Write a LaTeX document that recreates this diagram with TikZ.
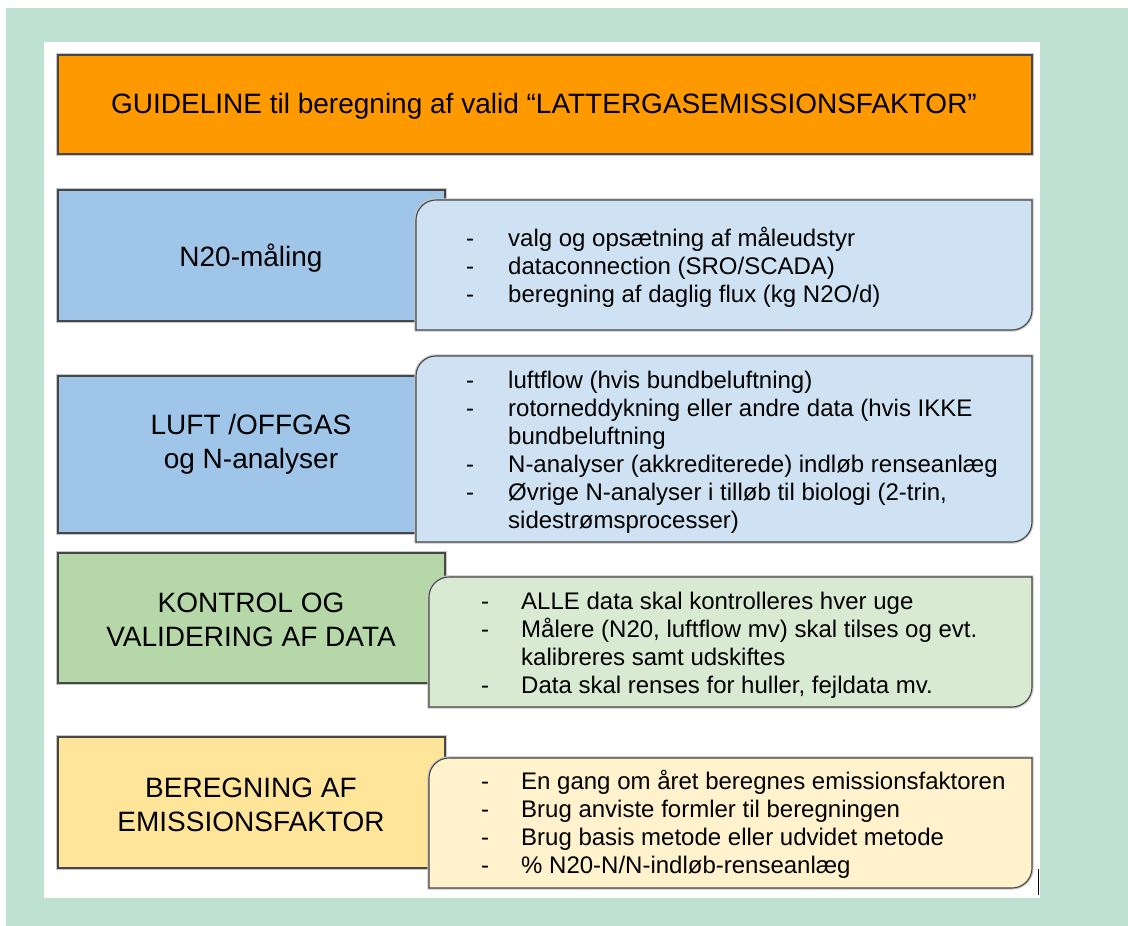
\documentclass[tikz,border=0pt]{standalone}
\usepackage{fontspec}
\setmainfont{Liberation Sans}
\usepackage{array}
\definecolor{mint}{HTML}{BEE1D3}
\definecolor{headorange}{HTML}{FF9900}
\definecolor{blueA}{HTML}{9FC5E8}
\definecolor{blueB}{HTML}{CFE2F3}
\definecolor{greenA}{HTML}{B6D7A8}
\definecolor{greenB}{HTML}{D9EAD3}
\definecolor{yellowA}{HTML}{FFE599}
\definecolor{yellowB}{HTML}{FFF2CC}
\begin{document}
\begin{tikzpicture}[x=1pt,y=1pt,yscale=-1,
  boxline/.style={draw=black!72, line width=1.1pt,
    preaction={draw=black!22, line width=3.4pt}},
  catbox/.style={rectangle, boxline, inner sep=0pt, minimum width=387pt},
  catlabel/.style={font=\fontsize{28}{34}\selectfont, align=center, inner sep=0pt},
  itemlist/.style={anchor=north west, inner sep=0pt, font=\fontsize{24}{28}\selectfont},
  callout/.style n args={4}{insert path={(#1,#2+20) .. controls (#1,#2+9) and (#1+9,#2) .. (#1+20,#2)
    -- (#3,#2) -- (#3,#4-20) .. controls (#3,#4-9) and (#3-9,#4) .. (#3-20,#4) -- (#1,#4) -- cycle}}
]
% canvas, mint frame and white sheet
\useasboundingbox (0,0) rectangle (1128,926);
\fill[white] (0,0) rectangle (1128,926);
\fill[mint] (6,8) rectangle (1128,926);
\fill[white] (44,42) rectangle (1040,898);

% heading
\node[rectangle, boxline, fill=headorange, minimum width=974pt, minimum height=99pt, inner sep=0pt]
  (head) at (545,104.5) {};
\node[font=\fontsize{28}{33}\selectfont, inner sep=0pt] (headtxt) at (544,106)
  {GUIDELINE til beregning af valid “LATTERGASEMISSIONSFAKTOR”};

% category boxes
\node[catbox, fill=blueA, minimum height=131pt] (maal) at (251.5,255.5) {};
\node[catbox, fill=blueA, minimum height=157pt] (luft) at (251.5,454.5) {};
\node[catbox, fill=greenA, minimum height=130pt] (kontrol) at (251.5,618) {};
\node[catbox, fill=yellowA, minimum height=131pt] (beregn) at (251.5,802.5) {};

\node[catlabel] (maaltxt) at (251,258) {N20-måling};
\node[catlabel] (lufttxt) at (251,444.5) {LUFT /OFFGAS\\og N-analyser};
\node[catlabel] (kontroltxt) at (251,620) {KONTROL OG\\VALIDERING AF DATA};
\node[catlabel] (beregntxt) at (251,804.5) {BEREGNING AF\\EMISSIONSFAKTOR};

% detail callouts
\path[boxline, fill=blueB, callout={416}{200}{1032}{330}];
\path[boxline, fill=blueB, callout={416}{356}{1032}{542}];
\path[boxline, fill=greenB, callout={429}{577}{1032}{707}];
\path[boxline, fill=yellowB, callout={429}{758}{1032}{888}];

\node[itemlist] (maallist) at (466,226.4) {\begin{tabular}{@{}p{42pt}@{}l@{}}
- & valg og opsætning af måleudstyr\\
- & dataconnection (SRO/SCADA)\\
- & beregning af daglig flux (kg N2O/d)
\end{tabular}};

\node[itemlist] (luftlist) at (466,368.4) {\begin{tabular}{@{}p{42pt}@{}l@{}}
- & luftflow (hvis bundbeluftning)\\
- & rotorneddykning eller andre data (hvis IKKE\\
  & bundbeluftning\\
- & N-analyser (akkrediterede) indløb renseanlæg\\
- & Øvrige N-analyser i tilløb til biologi (2-trin,\\
  & sidestrømsprocesser)
\end{tabular}};

\node[itemlist] (kontrollist) at (481,589.4) {\begin{tabular}{@{}p{40pt}@{}l@{}}
- & ALLE data skal kontrolleres hver uge\\
- & Målere (N20, luftflow mv) skal tilses og evt.\\
  & kalibreres samt udskiftes\\
- & Data skal renses for huller, fejldata mv.
\end{tabular}};

\node[itemlist] (beregnlist) at (481,769.4) {\begin{tabular}{@{}p{40pt}@{}l@{}}
- & En gang om året beregnes emissionsfaktoren\\
- & Brug anviste formler til beregningen\\
- & Brug basis metode eller udvidet metode\\
- & \% N20-N/N-indløb-renseanlæg
\end{tabular}};

% small text cursor mark at the sheet edge
\draw[line width=1.6pt] (1038.5,869) -- (1038.5,895);
\end{tikzpicture}
\end{document}
